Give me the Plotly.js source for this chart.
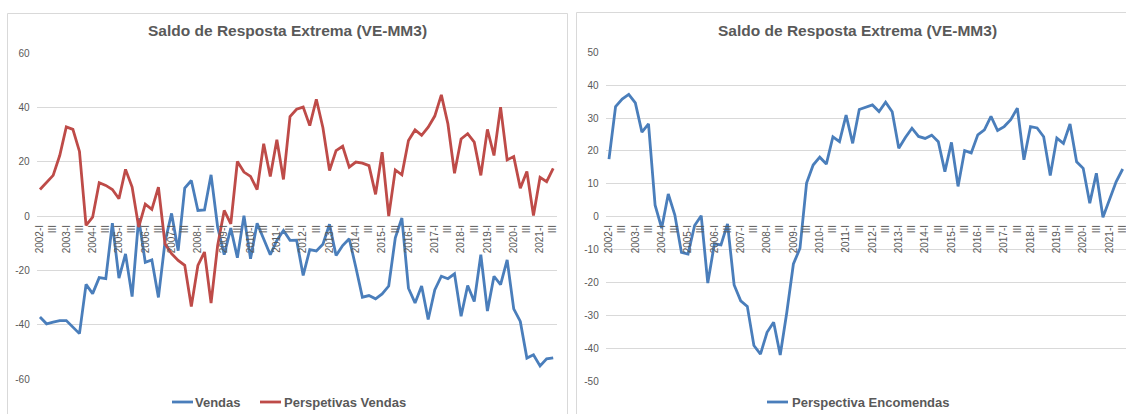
<!DOCTYPE html>
<html>
<head>
<meta charset="utf-8">
<script src="https://cdn.plot.ly/plotly-3.0.1.min.js"></script>
<style>html,body{margin:0;padding:0;background:#fff;}#chart{width:1126px;height:414px;}</style>
</head>
<body>
<div id="chart"></div>
<script>
// ---- Data (quarterly, 2002-I .. 2021-III) ----
const years = [2002,2003,2004,2005,2006,2007,2008,2009,2010,2011,2012,2013,2014,2015,2016,2017,2018,2019,2020,2021];
const quarterNames = ['I','II','III','IV'];

const vendas = [-37.1,-39.6,-39,-38.4,-38.4,-40.8,-43.2,-25.1,-28.5,-22.6,-23,-2.6,-22.8,-13.9,-29.6,-0.8,-17,-16.1,-29.9,-9.5,
  1,-12.7,10.3,13.1,2.1,2.3,15.2,-4,-14.2,-4.4,-15.3,0.2,-15.7,-2.6,-8.3,-14.2,-8.9,-5.3,-8.9,-8.8,
  -21.8,-12.3,-12.8,-10.3,-3,-14.5,-10.8,-8.3,-18.8,-29.8,-29.2,-30.4,-28.6,-25.7,-8,-0.7,-26.5,-31.9,-25.7,-38,
  -27.1,-22.1,-23,-21.2,-36.8,-25.5,-31.4,-14.2,-34.9,-22.1,-25.2,-16.1,-34.1,-38.7,-52.2,-51,-55.1,-52.5,-52.1];

const perspetivasVendas = [9.8,12.5,15,22.3,32.8,31.9,23.8,-3.4,-0.4,12.3,11.3,9.8,6.4,17.2,10.7,-4,4.4,2.5,10.7,-10.2,
  -13.8,-16.3,-18.1,-33.2,-18.1,-13.2,-32,-10.8,2.1,-2.8,20.1,16.2,14.6,9.8,26.6,14.6,28.1,13.5,36.6,39.3,
  40.1,33.3,43,32.5,16.8,24.1,25.7,18,19.9,19.5,18.6,8,23.5,0,17,15.2,27.8,31.7,29.7,32.7,
  36.8,44.6,33.9,15.8,28.4,30.3,27.2,15,31.9,22.3,40.1,20.7,21.9,10.3,16.4,0.2,14.3,12.7,17.6];

const perspectivaEncomendas = [17.5,33.5,35.8,37.2,34.6,25.7,28.2,3.5,-3.5,6.9,0.5,-10.9,-11.4,-2.7,0.3,-20.2,-8.3,-8.6,-2.2,-20.8,
  -25.6,-27.3,-39.2,-41.8,-35.2,-32.1,-42.1,-29.1,-14.4,-9.6,10.2,15.7,18.1,16,24.3,22.8,30.9,22.3,32.6,33.3,
  34,32,34.8,31.9,20.8,24.1,26.9,24.4,23.8,24.8,22.8,13.7,22.6,9.2,20.1,19.4,24.9,26.4,30.5,26.2,
  27.4,29.5,33,17.3,27.4,27,24.3,12.5,23.9,22.3,28.2,16.7,14.7,4.1,13.2,-0.2,5.4,10.6,14.5];

const leftYTicks = [-60,-40,-20,0,20,40,60];
const leftYTickText = ['-60','-40','-20','0','20','40','60'];
const rightYTicks = [-50,-40,-30,-20,-10,0,10,20,30,40,50];
const rightYTickText = ['-50','-40','-30','-20','-10','0','10','20','30','40','50'];

const chartTitle = 'Saldo de Resposta Extrema (VE-MM3)';
const seriesNames = ['Vendas','Perspetivas Vendas','Perspectiva Encomendas'];

// categories and tick labels
const categories = [];
years.forEach(y => quarterNames.forEach(q => categories.push(y + '-' + q)));
categories.length = vendas.length;
const tickVals = categories.filter((c,i) => i % 2 === 0);
const tickText = tickVals.map(c => c.endsWith('-I') ? c : 'III');

// ---- Styling ----
const W = 1126, H = 414;
const px = x => x / W;
const py = y => 1 - y / H;
const FONT = '"Liberation Sans", Arial, sans-serif';
const GREY = '#595959', GRID = '#D9D9D9';
const BLUE = '#4A7EBB', RED = '#BE4B48';
const LW = 2.8;

const traces = [
  {x: categories, y: vendas, name: seriesNames[0], type: 'scatter', mode: 'lines', line: {color: BLUE, width: LW}, xaxis: 'x', yaxis: 'y'},
  {x: categories, y: perspetivasVendas, name: seriesNames[1], type: 'scatter', mode: 'lines', line: {color: RED, width: LW}, xaxis: 'x', yaxis: 'y'},
  {x: categories, y: perspectivaEncomendas, name: seriesNames[2], type: 'scatter', mode: 'lines', line: {color: BLUE, width: LW}, xaxis: 'x2', yaxis: 'y2'}
];

function xAxis(domain, range) {
  return {domain: domain, range: range, type: 'category', anchor: 'free', position: py(216),
    showgrid: false, zeroline: false, showline: false, ticks: '',
    tickmode: 'array', tickvals: tickVals, ticktext: tickText, tickangle: -90,
    tickfont: {family: FONT, size: 10, color: GREY}, ticklabelstandoff: 6, automargin: false};
}
function yAxis(domain, range, vals, text, anchor) {
  return {domain: domain, range: range, anchor: anchor, tickmode: 'array', tickvals: vals, ticktext: text,
    showgrid: true, gridcolor: GRID, gridwidth: 1, zeroline: true, zerolinecolor: GRID, zerolinewidth: 1,
    showline: false, ticks: '', tickfont: {family: FONT, size: 10, color: GREY}, ticklabelstandoff: 6, automargin: false};
}

const layout = {
  width: W, height: H, margin: {l: 0, r: 0, t: 0, b: 0},
  paper_bgcolor: '#ffffff', plot_bgcolor: 'rgba(0,0,0,0)', showlegend: false,
  font: {family: FONT, color: GREY},
  xaxis: xAxis([px(36.7), px(556.5)], [-0.5, 78.5]),
  yaxis: yAxis([py(379.3), py(53)], [-60, 60], leftYTicks, leftYTickText, 'x'),
  xaxis2: xAxis([px(605.7), 1], [-0.5, 78.5]),
  yaxis2: yAxis([py(381), py(52.3)], [-50, 50], rightYTicks, rightYTickText, 'x2'),
  shapes: [
    {type: 'rect', xref: 'paper', yref: 'paper', x0: px(7.5), x1: px(567.5), y0: py(420), y1: py(13.5), line: {color: GRID, width: 1}, layer: 'below'},
    {type: 'rect', xref: 'paper', yref: 'paper', x0: px(576.5), x1: px(1135), y0: py(420), y1: py(12.5), line: {color: GRID, width: 1}, layer: 'below'},
    {type: 'line', xref: 'paper', yref: 'paper', x0: px(172), x1: px(193), y0: py(402), y1: py(402), line: {color: BLUE, width: LW}},
    {type: 'line', xref: 'paper', yref: 'paper', x0: px(260), x1: px(281), y0: py(402), y1: py(402), line: {color: RED, width: LW}},
    {type: 'line', xref: 'paper', yref: 'paper', x0: px(767), x1: px(788), y0: py(402), y1: py(402), line: {color: BLUE, width: LW}}
  ],
  annotations: [
    {text: '<b>' + chartTitle + '</b>', xref: 'paper', yref: 'paper', x: px(287.5), y: py(30.5), xanchor: 'center', yanchor: 'middle', showarrow: false, font: {family: FONT, size: 15.5, color: GREY}},
    {text: '<b>' + chartTitle + '</b>', xref: 'paper', yref: 'paper', x: px(857.5), y: py(30.5), xanchor: 'center', yanchor: 'middle', showarrow: false, font: {family: FONT, size: 15.5, color: GREY}},
    {text: '<b>' + seriesNames[0] + '</b>', xref: 'paper', yref: 'paper', x: px(193), y: py(402), xanchor: 'left', yanchor: 'middle', showarrow: false, font: {family: FONT, size: 13, color: GREY}},
    {text: '<b>' + seriesNames[1] + '</b>', xref: 'paper', yref: 'paper', x: px(282), y: py(402), xanchor: 'left', yanchor: 'middle', showarrow: false, font: {family: FONT, size: 13, color: GREY}},
    {text: '<b>' + seriesNames[2] + '</b>', xref: 'paper', yref: 'paper', x: px(790), y: py(402), xanchor: 'left', yanchor: 'middle', showarrow: false, font: {family: FONT, size: 13, color: GREY}}
  ]
};

Plotly.newPlot('chart', traces, layout, {displayModeBar: false, staticPlot: true});
</script>
</body>
</html>
